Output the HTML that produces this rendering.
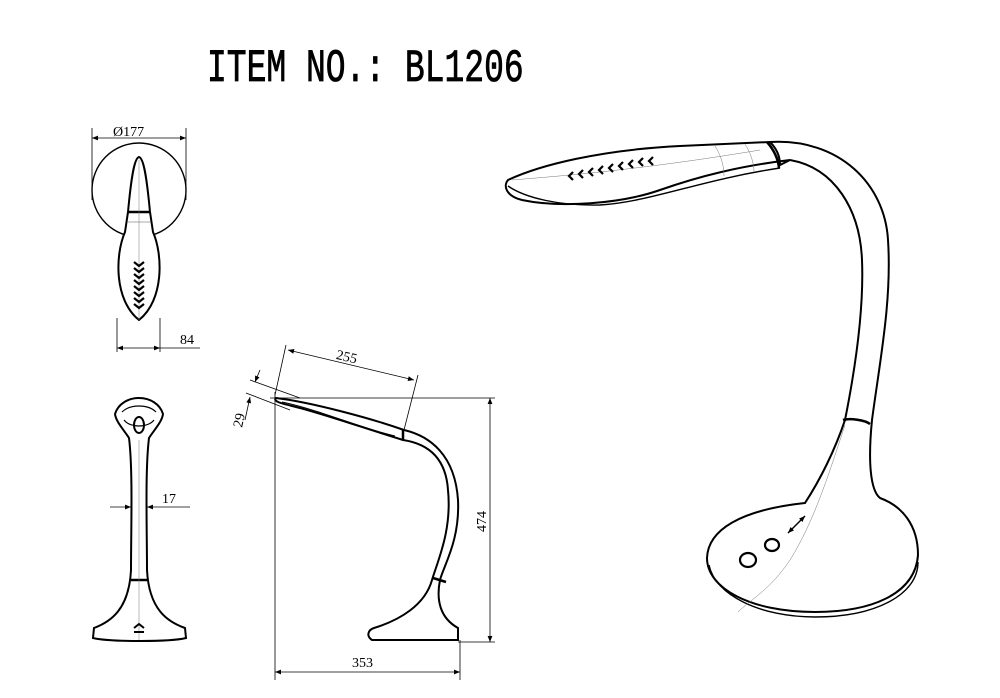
<!DOCTYPE html>
<html><head><meta charset="utf-8"><style>
html,body{margin:0;padding:0;background:#fff;}
svg{display:block}
</style></head><body>
<svg width="1000" height="698" viewBox="0 0 1000 698" xmlns="http://www.w3.org/2000/svg">
<defs>
<marker id="a" viewBox="0 0 10 10" refX="10" refY="5" markerWidth="9" markerHeight="6" orient="auto-start-reverse" markerUnits="userSpaceOnUse"><path d="M0,1 L10,5 L0,9 z" fill="#000"/></marker>
</defs>
<text x="0" y="0" transform="translate(207 81) scale(1 1.4)" font-family="Liberation Mono, monospace" font-size="33" fill="#000" stroke="#000" stroke-width="0.6">ITEM NO.: BL1206</text>

<g fill="none" stroke="#000" stroke-width="1.6">
<!-- TOP VIEW -->
<circle cx="139" cy="190" r="47" stroke-width="1.4"/>
<path d="M139,157 C134,158 131,180 128,212 L125,232 C115,255 114,300 139,320 C164,300 163,255 153,232 L150,212 C147,180 144,158 139,157 Z" fill="#fff" stroke-width="2"/>
<path d="M128,212 L150,212" stroke-width="2.5"/>
<path d="M127,222 L151,222" stroke-width="0.6" stroke="#555"/>
<path d="M139,160 L139,320" stroke-width="0.5" stroke="#777"/>
<g stroke-width="2.2"><path d="M134,262 l5,4 l5,-4 M134,268 l5,4 l5,-4 M134,274 l5,4 l5,-4 M134,280 l5,4 l5,-4 M134,286 l5,4 l5,-4 M134,292 l5,4 l5,-4 M134,298 l5,4 l5,-4 M134,304 l5,4 l5,-4"/></g>
<g stroke-width="0.8">
<path d="M92,128 L92,200 M186,128 L186,200"/>
<path d="M92,138 L186,138" marker-start="url(#a)" marker-end="url(#a)"/>
<path d="M117,318 L117,352 M160,318 L160,352"/>
<path d="M117,348 L160,348" marker-start="url(#a)" marker-end="url(#a)"/>
<path d="M160,348 L200,348"/>
</g>

<!-- FRONT VIEW -->
<path d="M139,398 C128,398 118,404 115,414 C116,422 124,430 129,438 C133,470 131,530 131,570 C129,610 110,622 94,628 L93,638 C110,642 170,642 186,638 L185,628 C168,622 149,610 147,570 C147,530 145,470 149,438 C154,430 162,422 163,414 C160,404 150,398 139,398 Z" stroke-width="2"/>
<path d="M122,412 C130,404 148,404 156,412 M124,420 C130,428 148,428 154,420" stroke-width="1.2"/>
<ellipse cx="139" cy="425" rx="5" ry="8" stroke-width="2"/>
<path d="M131,580 L147,580" stroke-width="2.5"/>
<path d="M139,440 L139,640" stroke-width="0.5" stroke="#777"/>
<path d="M134,628 l5,-4 l5,4 M134,632 l10,0" stroke-width="2"/>
<g stroke-width="0.8">
<path d="M110,507 L131,507" marker-end="url(#a)"/>
<path d="M190,507 L147,507" marker-end="url(#a)"/>
</g>

<!-- SIDE VIEW -->
<path d="M276,398 C310,402 370,418 404,430 C430,436 455,455 458,500 C460,540 444,565 440,580 C436,600 440,618 458,628 L458,640 L372,640 C366,636 368,630 374,628 C400,620 425,605 432,580 C438,560 452,530 448,490 C446,460 430,444 403,440 C370,430 330,416 300,408 C285,404 272,402 276,398 Z" stroke-width="2"/>
<path d="M282,402 C320,410 360,428 395,436" stroke-width="1"/>
<path d="M403,430 L403,440" stroke-width="2.5"/>
<path d="M433,578 L446,582" stroke-width="2.5"/>
<g stroke-width="0.8">
<path d="M275,392 L275,680 M270,398 L495,398 M458,642 L495,642 M460,640 L460,680"/>
<path d="M490,398 L490,642" marker-start="url(#a)" marker-end="url(#a)"/>
<path d="M275,672 L460,672" marker-start="url(#a)" marker-end="url(#a)"/>
<path d="M286,345 L275,395 M418,375 L404,430"/>
<path d="M288,350 L414,380" marker-start="url(#a)" marker-end="url(#a)"/>
<path d="M250,380 L300,398 M246,393 L290,410"/>
<path d="M260,370 L255,382" marker-end="url(#a)"/>
<path d="M245,420 L250,397" marker-end="url(#a)"/>
</g>

<!-- PERSPECTIVE VIEW -->
<!-- neck and base -->
<path d="M770,142 C840,138 885,185 888,240 C892,300 880,360 872,420 C868,460 870,490 880,498 C902,506 918,525 918,555 C915,595 870,612 815,612 C750,612 707,588 707,558 C708,530 740,510 805,503 C820,480 835,450 845,420 C855,370 864,310 862,260 C860,210 835,168 790,160" stroke-width="2" fill="#fff"/>
<path d="M709,565 C715,595 760,617 815,617 C875,617 918,595 918,562" stroke-width="1.4"/>
<!-- head -->
<path d="M508,180 C540,165 600,150 680,146 L770,142 C776,148 780,155 780,165 L790,160 C740,166 700,176 660,190 C620,204 560,208 522,200 C506,196 503,186 508,180 Z" stroke-width="2" fill="#fff"/>
<path d="M508,186 C525,198 560,206 600,205 C650,202 700,180 780,168" stroke-width="1.4"/>
<path d="M512,180 C560,176 640,170 760,150" stroke-width="0.5" stroke="#777"/>
<path d="M767,142 C774,150 778,158 779,168" stroke-width="2.5"/>
<path d="M715,146 C720,154 724,164 724,176 M745,144 C750,152 754,162 754,172" stroke-width="0.5" stroke="#777"/>
<path d="M843,420 C850,418 865,420 870,424" stroke-width="2.5"/>
<path d="M845,425 C830,470 815,520 790,560 C770,590 750,600 738,612" stroke-width="0.5" stroke="#777"/>
<g stroke-width="2.2"><path d="M573,172 l-4,4 l4,4 M583,170 l-4,4 l4,4 M593,168 l-4,4 l4,4 M603,166 l-4,4 l4,4 M613,164 l-4,4 l4,4 M623,162 l-4,4 l4,4 M633,160 l-4,4 l4,4 M643,158 l-4,4 l4,4 M653,157 l-4,4 l4,4"/></g>
<ellipse cx="748" cy="560" rx="8" ry="7" stroke-width="2.2"/>
<ellipse cx="772" cy="545" rx="7" ry="6" stroke-width="2.2"/>
<path d="M788,533 L805,516" stroke-width="1.4" marker-start="url(#a)" marker-end="url(#a)"/>
</g>
<g font-family="Liberation Serif, serif" font-size="14" fill="#000">
<text x="113" y="136">Ø177</text>
<text x="180" y="344">84</text>
<text x="162" y="503">17</text>
<text x="336" y="362" transform="rotate(13 350 358)">255</text>
<text x="0" y="0" transform="translate(242 428) rotate(-78)">29</text>
<text x="0" y="0" transform="translate(486 532) rotate(-90)">474</text>
<text x="352" y="667">353</text>
</g>
</svg>
</body></html>
